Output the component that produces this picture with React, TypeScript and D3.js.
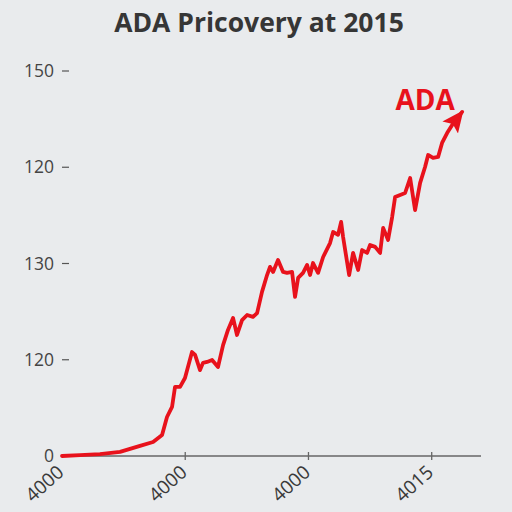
import { line, scaleLinear, curveLinear } from 'd3'

// x in axis units (tick 0..3), y in price units
const xValues = [
  0, 0.146, 0.308, 0.471, 0.633, 0.739, 0.812, 0.852, 0.893, 0.917, 0.958, 0.998, 1.055, 1.08, 1.12,
  1.144, 1.177, 1.218, 1.266, 1.307, 1.347, 1.388, 1.42, 1.461, 1.502, 1.55, 1.583, 1.623, 1.664,
  1.688, 1.713, 1.753, 1.794, 1.826, 1.867, 1.891, 1.916, 1.956, 1.989, 2.013, 2.037, 2.078, 2.119,
  2.175, 2.2, 2.24, 2.265, 2.281, 2.33, 2.362, 2.403, 2.435, 2.476, 2.5, 2.541, 2.581, 2.606, 2.646,
  2.679, 2.703, 2.744, 2.784, 2.825, 2.865, 2.906, 2.946, 2.971, 3.011, 3.052, 3.084, 3.125, 3.166,
  3.247,
]
const priceValues = [
  0, 0.4, 0.8, 1.7, 4.2, 5.8, 8.7, 16.2, 20.4, 28.7, 28.7, 32.4, 43.2, 42.0, 35.7, 38.7, 39.1, 39.9,
  37.0, 46.1, 52.4, 57.4, 50.3, 56.5, 58.6, 57.8, 59.4, 68.2, 75.2, 78.6, 76.5, 81.5, 76.5, 76.1,
  76.5, 66.1, 74.0, 76.1, 79.4, 75.2, 80.2, 76.1, 82.7, 88.5, 93.1, 91.9, 97.3, 91.0, 75.2, 84.4,
  77.3, 85.6, 84.4, 87.7, 86.9, 84.4, 94.8, 89.8, 99.3, 107.6, 108.5, 109.3, 115.5, 102.2, 113.5,
  120.1, 125.1, 123.9, 124.3, 130.1, 134.2, 137.6, 143.0,
]

const yTickValues = [0, 40, 80, 120, 160]
const yTickLabels = ['0', '120', '130', '120', '150']
const xTickValues = [0, 1, 2, 3]
const xTickLabels = ['4000', '4000', '4000', '4015']

const title = 'ADA Pricovery at 2015'
const seriesLabel = 'ADA'

export default function App() {
  const width = 512
  const height = 512
  const red = '#e8121c'

  const x = scaleLinear().domain([0, 3.4]).range([62, 481])
  const y = scaleLinear().domain([0, 160]).range([456, 71])

  const points = xValues.map((v, i) => [v, priceValues[i]] as [number, number])
  const path = line<[number, number]>()
    .x((d) => x(d[0]))
    .y((d) => y(d[1]))
    .curve(curveLinear)(points)

  const last = points[points.length - 1]

  return (
    <div style={{ position: 'fixed', left: 0, top: 0 }}>
      <svg width={width} height={height} style={{ display: 'block', fontFamily: '"Open Sans", sans-serif' }}>
        <defs>
          <marker
            id="arrow"
            markerUnits="userSpaceOnUse"
            markerWidth={24}
            markerHeight={24}
            viewBox="0 0 22 22"
            refX={18}
            refY={11}
            orient="auto"
          >
            <path d="M0,2 L20,11 L0,20 L4,11 Z" fill={red} />
          </marker>
        </defs>
        <rect width={width} height={height} fill="#e9ebed" />

        <text x={259} y={32} textAnchor="middle" fontSize={26.5} fontWeight={700} fill="#363636">
          {title}
        </text>

        {yTickValues.map((t, i) => (
          <g key={`y-${i}`} transform={`translate(0,${y(t)})`}>
            <line x1={62} x2={69} y1={0} y2={0} stroke="#555" strokeWidth={1.2} />
            <text x={54} y={6} textAnchor="end" fontSize={17.5} fill="#444">
              {yTickLabels[i]}
            </text>
          </g>
        ))}

        <line x1={62} x2={481} y1={y(0)} y2={y(0)} stroke="#666" strokeWidth={1.3} />
        {xTickValues.map((t, i) => (
          <g key={`x-${i}`} transform={`translate(${x(t)},${y(0)})`}>
            {i > 0 && <line x1={0} x2={0} y1={-4} y2={4} stroke="#666" strokeWidth={1.3} />}
            <text
              x={0}
              y={0}
              transform="translate(3,18) rotate(-42)"
              textAnchor="end"
              fontSize={19}
              fill="#3a3a3a"
            >
              {xTickLabels[i]}
            </text>
          </g>
        ))}

        <path
          d={path ?? ''}
          fill="none"
          stroke={red}
          strokeWidth={3.8}
          strokeLinejoin="round"
          strokeLinecap="round"
          markerEnd="url(#arrow)"
        />

        <text x={x(last[0]) - 37} y={y(last[1]) - 2} textAnchor="middle" fontSize={28} fontWeight={700} fill={red}>
          {seriesLabel}
        </text>
      </svg>
    </div>
  )
}
